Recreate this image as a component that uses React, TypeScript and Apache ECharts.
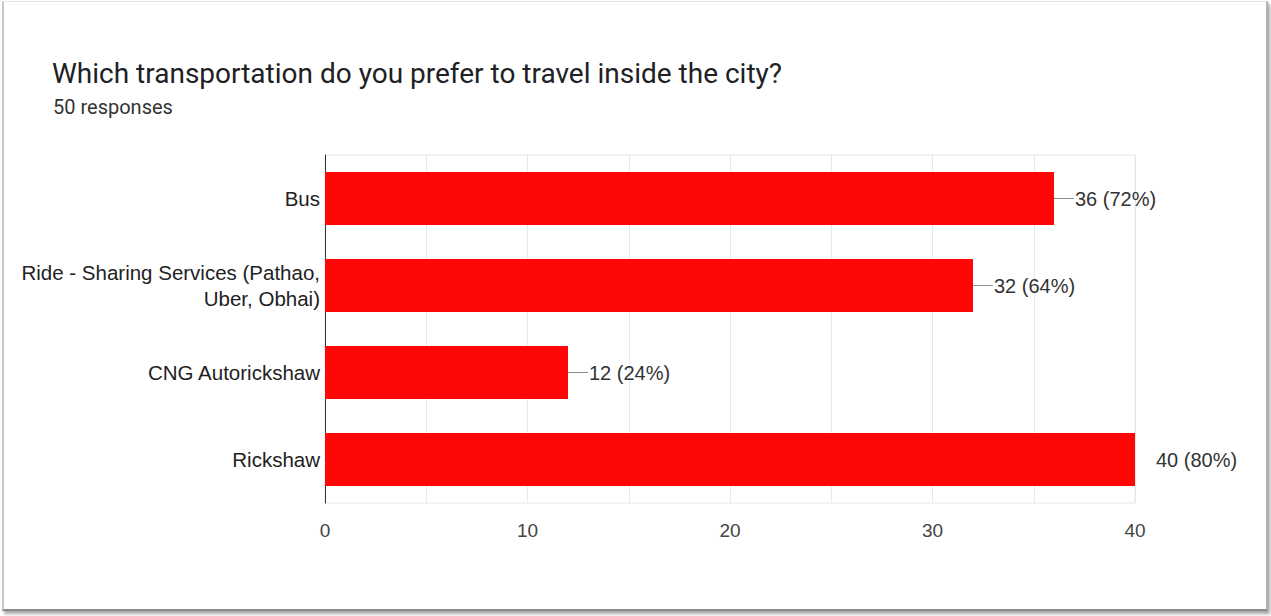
import React, { useEffect, useRef } from "react";
import * as echarts from "echarts";

const titleText = "Which transportation do you prefer to travel inside the city?";
const subText = "50 responses";
const totalResponses = 50;
const categories = [
  "Bus",
  "Ride - Sharing Services (Pathao,\nUber, Obhai)",
  "CNG Autorickshaw",
  "Rickshaw",
];
const counts = [36, 32, 12, 40];
const leaderShown = [true, true, true, false];
const xTicks = { min: 0, max: 40, interval: 5, labelEvery: 10 };

export default function App() {
  const ref = useRef<HTMLDivElement>(null);
  useEffect(() => {
    if (!ref.current) return;
    const chart = echarts.init(ref.current, null, { renderer: "svg" });
    chart.setOption({
      animation: false,
      backgroundColor: "#ffffff",
      title: [
        {
          text: titleText,
          left: 47,
          top: 54,
          textStyle: { fontFamily: "Roboto", fontSize: 28, fontWeight: "normal", color: "#202124" },
        },
        {
          text: subText,
          left: 48,
          top: 92,
          textStyle: { fontFamily: "Roboto", fontSize: 20, fontWeight: "normal", color: "#333333" },
        },
      ],
      grid: {
        left: 325,
        right: 136,
        top: 155,
        bottom: 113,
        show: true,
        borderWidth: 1,
        borderColor: "#e8e8e8",
        backgroundColor: "transparent",
      },
      xAxis: {
        type: "value",
        min: xTicks.min,
        max: xTicks.max,
        interval: xTicks.interval,
        axisLine: { show: false },
        axisTick: { show: false },
        splitLine: { show: true, lineStyle: { color: "#e8e8e8", width: 1 } },
        axisLabel: {
          margin: 18,
          fontFamily: "Liberation Sans",
          fontSize: 19,
          color: "#444444",
          formatter: (v: number) => (v % xTicks.labelEvery === 0 ? String(v) : ""),
        },
      },
      yAxis: {
        type: "category",
        inverse: true,
        data: categories,
        axisLine: { show: true, lineStyle: { color: "#333333", width: 1 } },
        axisTick: { show: false },
        splitLine: { show: false },
        axisLabel: {
          margin: 5,
          fontFamily: "Liberation Sans",
          fontSize: 20.5,
          color: "#222222",
          lineHeight: 26,
          align: "right",
        },
      },
      series: [
        {
          type: "bar",
          data: counts,
          barWidth: "61%",
          itemStyle: { color: "#ff0707" },
          label: {
            show: true,
            position: "right",
            distance: 0,
            formatter: (p: any) => {
              const v = p.value as number;
              const pct = Math.round((v / totalResponses) * 100);
              const lead = leaderShown[p.dataIndex] ? "{ln|}" : "{sp|}";
              return `${lead}{t|${v} (${pct}%)}`;
            },
            rich: {
              ln: { width: 20, height: 1, backgroundColor: "#8e8e8e" },
              sp: { width: 20, height: 1 },
              t: { fontFamily: "Liberation Sans", fontSize: 20, color: "#333333", padding: [0, 0, 0, 1] },
            },
          },
        },
      ],
    });
    return () => chart.dispose();
  }, []);
  return (
    <div style={{ position: "fixed", left: 0, top: 0, width: 1271, height: 616, background: "#ffffff" }}>
      <div
        style={{
          position: "absolute",
          left: 2,
          top: 1,
          width: 1262,
          height: 607,
          borderTop: "1px solid #e4e4e4",
          borderLeft: "2px solid #c8c8c8",
          borderRight: "2px solid #b0b0b0",
          borderBottom: "2px solid #8a8a8a",
          boxShadow: "2px 3px 3px rgba(0,0,0,0.35)",
          overflow: "hidden",
        }}
      >
        <div ref={ref} style={{ position: "absolute", left: -4, top: -2, width: 1271, height: 616 }} />
      </div>
    </div>
  );
}
